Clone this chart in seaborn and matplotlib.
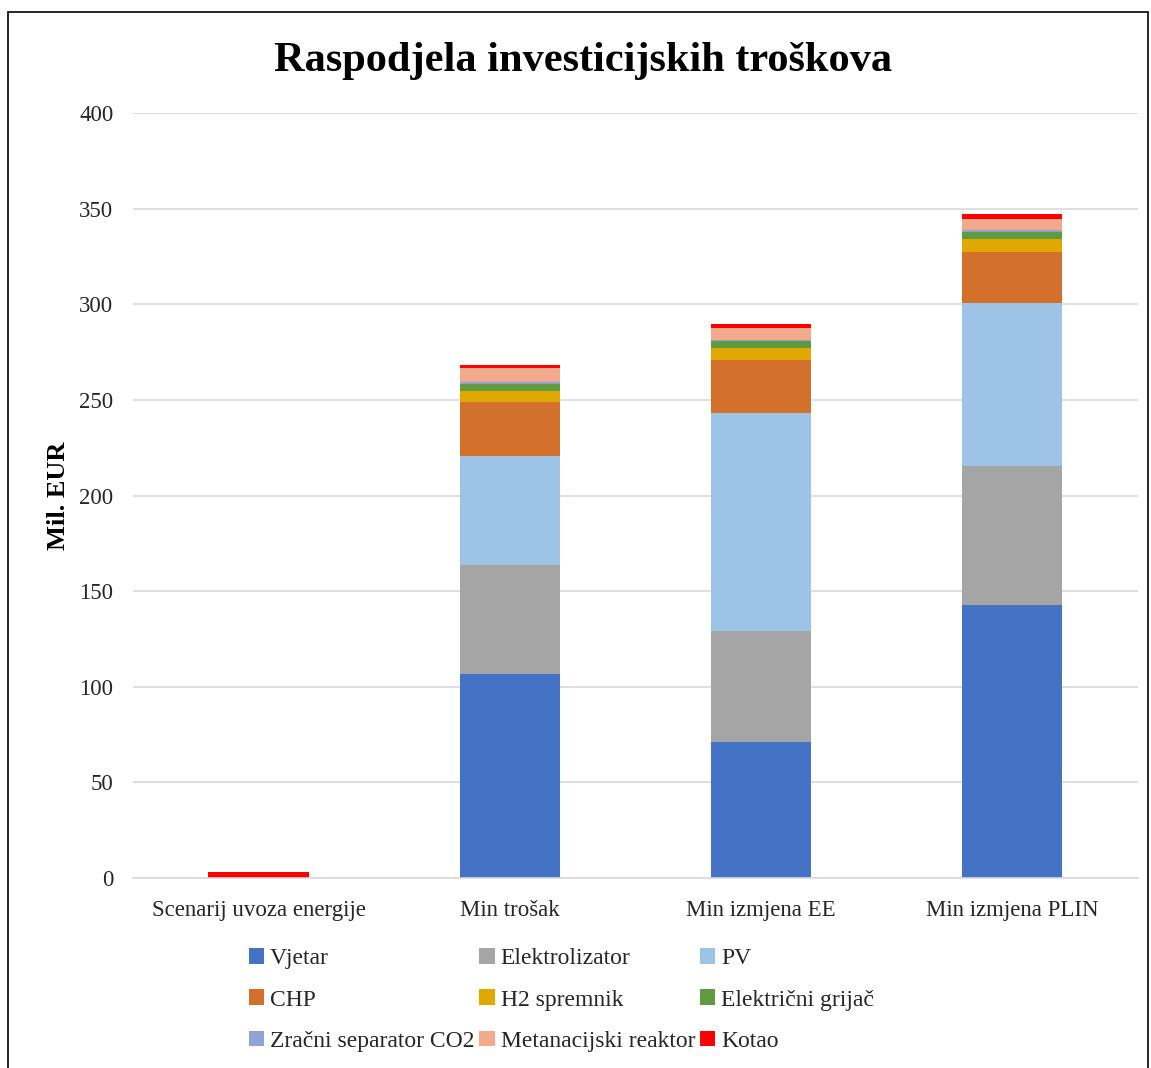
import numpy as np
import pandas as pd
import matplotlib
matplotlib.use("Agg")
import matplotlib.pyplot as plt
import seaborn as sns
from matplotlib.patches import Patch, Rectangle

# data (Mil. EUR)
scenarios = ["Scenarij uvoza energije", "Min trošak", "Min izmjena EE", "Min izmjena PLIN"]
components = ["Vjetar", "Elektrolizator", "PV", "CHP", "H2 spremnik",
              "Električni grijač", "Zračni separator CO2", "Metanacijski reaktor", "Kotao"]
vjetar = [0, 106.7, 71.1, 142.7]
elektrolizator = [0, 57.0, 58.0, 72.7]
pv = [0, 57.0, 114.0, 85.3]
chp = [0, 28.3, 28.0, 26.8]
h2_spremnik = [0, 5.8, 6.0, 6.6]
grijac = [0, 3.8, 3.7, 4.0]
zracni = [0, 0.9, 0.7, 0.9]
metan = [0, 7.0, 6.3, 5.9]
kotao = [3.2, 2.0, 2.0, 2.3]
colors = ["#4472C4", "#A5A5A5", "#9DC3E6", "#D2702C", "#E0A800",
          "#629B3F", "#8FA3D4", "#F2A98C", "#FF0000"]

values = [vjetar, elektrolizator, pv, chp, h2_spremnik, grijac, zracni, metan, kotao]
df = pd.DataFrame(dict(zip(components, values)), index=scenarios)
cum = df.cumsum(axis=1)

sns.set_style("white")
plt.rcParams["font.family"] = ["Liberation Serif", "DejaVu Serif"]

fig = plt.figure(figsize=(11.51, 10.68), dpi=100)
ax = fig.add_axes([0.1155, 0.178, 0.873, 0.716])

# stack by overlaying cumulative totals, tallest first
for comp, col in reversed(list(zip(components, colors))):
    sns.barplot(x=scenarios, y=cum[comp].values, color=col, width=0.4,
                linewidth=0, saturation=1, ax=ax, zorder=2)

ax.set_ylim(0, 400)
ax.set_yticks(range(0, 401, 50))
ax.yaxis.grid(True, color="#D9D9D9", linewidth=1.2, zorder=0)
ax.set_axisbelow(True)
for s in ["top", "right", "left"]:
    ax.spines[s].set_visible(False)
ax.spines["bottom"].set_color("#D9D9D9")
ax.spines["bottom"].set_linewidth(1.2)
ax.tick_params(axis="both", length=0, labelsize=16.5, colors="#262626")
ax.tick_params(axis="y", pad=14)
ax.tick_params(axis="x", pad=16)
ax.set_xlabel("")
ax.set_ylabel("Mil. EUR", fontsize=19, fontweight="bold", labelpad=7, color="black")
ax.set_xlim(-0.5, 3.5)

fig.suptitle("Raspodjela investicijskih troškova", fontsize=30.5, fontweight="bold",
             y=0.961, x=0.507, color="black")

handles = [Patch(facecolor=c, edgecolor="none", label=l) for l, c in zip(components, colors)]
order = [0, 3, 6, 1, 4, 7, 2, 5, 8]
fig.legend([handles[i] for i in order], [components[i] for i in order],
           loc="upper left", bbox_to_anchor=(0.208, 0.121), ncol=3, frameon=False,
           fontsize=17, handlelength=0.65, handleheight=0.65, handletextpad=0.25,
           columnspacing=0.2, labelspacing=0.85, borderaxespad=0)

fig.patches.append(Rectangle((0.007, -0.01), 0.99, 0.999, transform=fig.transFigure,
                             fill=False, edgecolor="black", linewidth=1.2))

fig.savefig("out.png", dpi=100)
